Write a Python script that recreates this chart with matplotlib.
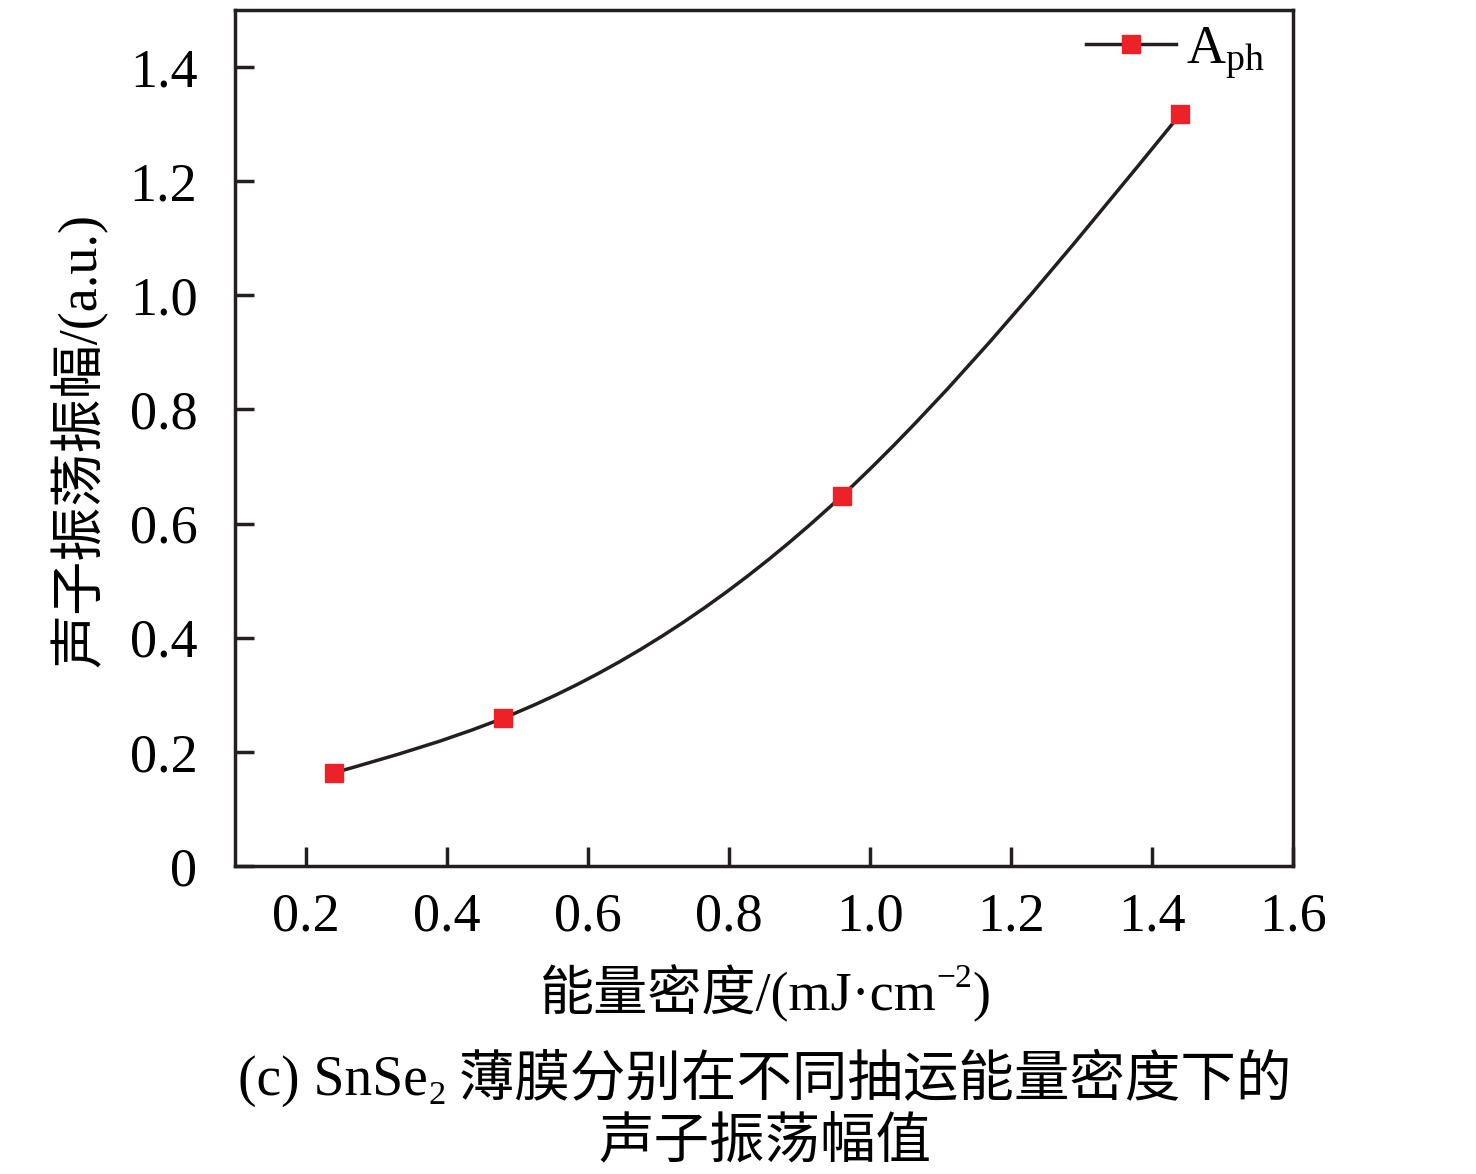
import numpy as np
import matplotlib
matplotlib.use("Agg")
import matplotlib.pyplot as plt
from matplotlib.path import Path
from matplotlib.patches import PathPatch
from matplotlib.lines import Line2D
from matplotlib.transforms import IdentityTransform

plt.rcParams['font.family'] = ['Liberation Serif', 'Noto Sans CJK SC']
plt.rcParams['mathtext.fontset'] = 'custom'
plt.rcParams['mathtext.rm'] = 'Liberation Serif'
plt.rcParams['mathtext.it'] = 'Liberation Serif'

# data
fluence = [0.24, 0.48, 0.96, 1.44]
amplitude = [0.163, 0.259, 0.648, 1.317]

xticks = [0.2, 0.4, 0.6, 0.8, 1.0, 1.2, 1.4, 1.6]
xtick_labels = ["0.2", "0.4", "0.6", "0.8", "1.0", "1.2", "1.4", "1.6"]
yticks = [0, 0.2, 0.4, 0.6, 0.8, 1.0, 1.2, 1.4]
ytick_labels = ["0", "0.2", "0.4", "0.6", "0.8", "1.0", "1.2", "1.4"]

line_color = "#231f20"
marker_color = "#ed2128"
FS = 39


def spline_path(xs, ys):
    # natural cubic spline written as bezier segments
    x = np.asarray(xs, float)
    y = np.asarray(ys, float)
    n = len(x)
    h = np.diff(x)
    A = np.zeros((n, n))
    b = np.zeros(n)
    A[0, 0] = 1
    A[-1, -1] = 1
    for i in range(1, n - 1):
        A[i, i - 1] = h[i - 1]
        A[i, i] = 2 * (h[i - 1] + h[i])
        A[i, i + 1] = h[i]
        b[i] = 6 * ((y[i + 1] - y[i]) / h[i] - (y[i] - y[i - 1]) / h[i - 1])
    M = np.linalg.solve(A, b)
    s = np.zeros(n)
    for i in range(n - 1):
        s[i] = (y[i + 1] - y[i]) / h[i] - h[i] * (2 * M[i] + M[i + 1]) / 6
    s[-1] = (y[-1] - y[-2]) / h[-1] + h[-1] * (M[-2] + 2 * M[-1]) / 6
    verts = [(x[0], y[0])]
    codes = [Path.MOVETO]
    for i in range(n - 1):
        d = h[i] / 3.0
        verts += [(x[i] + d, y[i] + s[i] * d), (x[i + 1] - d, y[i + 1] - s[i + 1] * d), (x[i + 1], y[i + 1])]
        codes += [Path.CURVE4] * 3
    return Path(verts, codes)


def rich_text(fig, cx, base, pieces, fs):
    # pieces: (text, kind) with kind in n / sup / sub ; cx, base in pixels
    r = fig.canvas.get_renderer()
    items = []
    for s, kind in pieces:
        size = fs if kind == "n" else fs * 0.62
        t = fig.text(0, 0, s, fontsize=size, transform=IdentityTransform(),
                     ha="left", va="baseline")
        items.append((t, kind, t.get_window_extent(r).width))
    total = sum(w for _, _, w in items)
    x = cx - total / 2.0
    px = fs * fig.dpi / 72.0
    for t, kind, w in items:
        dy = 0
        if kind == "sup":
            dy = 0.42 * px
        elif kind == "sub":
            dy = -0.17 * px
        t.set_position((x, base + dy))
        x += w


fig = plt.figure(figsize=(14.76, 11.74), dpi=100)
ax = fig.add_axes([0.1592, 0.2624, 0.876 - 0.1592, 0.9915 - 0.2624])

ax.add_patch(PathPatch(spline_path(fluence, amplitude), facecolor="none",
                       edgecolor=line_color, lw=2.5, zorder=2))
ax.plot(fluence, amplitude, linestyle="none", marker="s", markersize=13.5,
        markerfacecolor=marker_color, markeredgecolor=marker_color, zorder=3)

ax.set_xlim(0.1, 1.6)
ax.set_ylim(0, 1.5)
ax.set_xticks(xticks)
ax.set_xticklabels(xtick_labels)
ax.set_yticks(yticks)
ax.set_yticklabels(ytick_labels)
ax.tick_params(direction="in", length=14, width=2.5, labelsize=FS, color=line_color)
ax.tick_params(axis="x", pad=19)
ax.tick_params(axis="y", pad=27)
for sp in ax.spines.values():
    sp.set_linewidth(2.5)
    sp.set_color(line_color)

handle = Line2D([], [], color=line_color, lw=2.5, marker="s", markersize=13.5,
                markerfacecolor=marker_color, markeredgecolor=marker_color)
ax.legend([handle], ["A$_{\\mathrm{ph}}$"], loc="upper right", bbox_to_anchor=(0.979, 0.989),
          frameon=False, fontsize=FS, handlelength=1.65, handletextpad=0.2,
          borderaxespad=0, borderpad=0.1)

fig.text(79 / 1476, 1 - 440 / 1174, "声子振荡振幅/(a.u.)", rotation=90,
         ha="center", va="center", fontsize=FS)

H = 1174
rich_text(fig, 765, H - 1010, [("能量密度/(mJ·cm", "n"), ("−2", "sup"), (")", "n")], FS)
rich_text(fig, 765, H - 1095, [("(c) SnSe", "n"), ("2", "sub"),
                               (" 薄膜分别在不同抽运能量密度下的", "n")], 40)
rich_text(fig, 765, H - 1157, [("声子振荡幅值", "n")], 40)

fig.savefig("out.png", dpi=100)
